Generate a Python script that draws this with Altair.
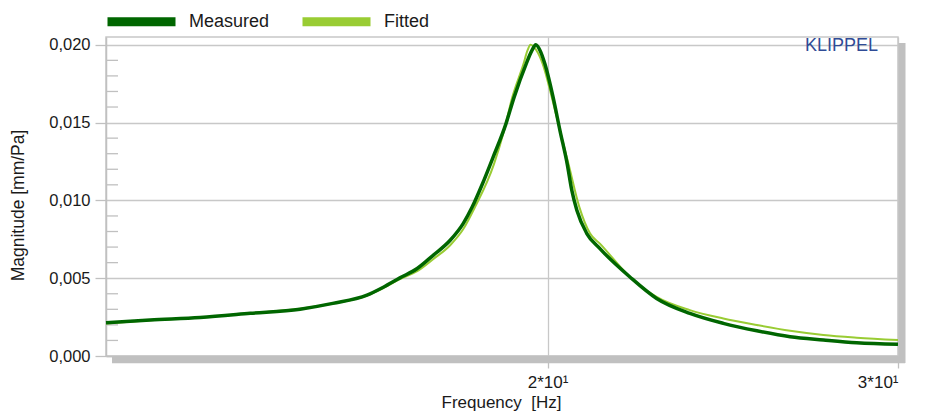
import altair as alt
import pandas as pd

# ---- data ----
freq_measured = [12.00, 12.63, 13.38, 14.18, 15.02, 15.60, 16.23, 16.53, 16.86, 17.20,
                 17.52, 17.87, 18.14, 18.33, 18.55, 18.78, 19.06, 19.24, 19.51, 19.64,
                 19.73, 19.83, 19.94, 20.13, 20.29, 20.46, 20.57, 20.69, 20.93, 21.25,
                 22.00, 22.69, 23.58, 24.51, 25.48, 26.48, 27.52, 28.60, 30.00]
mag_measured = [0.00213, 0.00231, 0.00248, 0.00274, 0.00301, 0.00338, 0.00391, 0.00440, 0.00502, 0.00562,
                0.00647, 0.00744, 0.00851, 0.00957, 0.01107, 0.01278, 0.01492, 0.01662, 0.01876, 0.01962,
                0.02000, 0.01962, 0.01876, 0.01662, 0.01449, 0.01235, 0.01064, 0.00936, 0.00787, 0.00690,
                0.00508, 0.00370, 0.00274, 0.00210, 0.00162, 0.00124, 0.00103, 0.00085, 0.00075]

freq_fitted = [12.00, 12.63, 13.38, 14.18, 15.02, 15.60, 16.23, 16.53, 16.86, 17.20,
               17.52, 17.87, 18.14, 18.39, 18.80, 19.02, 19.20, 19.45, 19.54, 19.61,
               19.75, 19.89, 20.10, 20.29, 20.49, 20.75, 21.01, 21.25, 22.00, 22.69,
               23.58, 24.51, 25.48, 26.48, 27.52, 28.60, 30.00]
mag_fitted = [0.00209, 0.00229, 0.00248, 0.00275, 0.00303, 0.00338, 0.00389, 0.00435, 0.00494, 0.00545,
              0.00622, 0.00712, 0.00814, 0.00957, 0.01235, 0.01449, 0.01662, 0.01876, 0.01962, 0.02000,
              0.01962, 0.01876, 0.01662, 0.01449, 0.01235, 0.00957, 0.00787, 0.00722, 0.00508, 0.00380,
              0.00295, 0.00241, 0.00199, 0.00162, 0.00135, 0.00118, 0.00103]

series_names = ["Measured", "Fitted"]
series_colors = ["#006600", "#99cc33"]
y_major = [0.0, 0.005, 0.010, 0.015, 0.020]
y_minor = [0.001, 0.002, 0.003, 0.004, 0.006, 0.007, 0.008, 0.009,
           0.011, 0.012, 0.013, 0.014, 0.016, 0.017, 0.018, 0.019]
x_ticks = [20, 30]
brand = ["KLIPPEL"]

df = pd.concat([
    pd.DataFrame({"f": freq_measured, "m": mag_measured, "series": "Measured"}),
    pd.DataFrame({"f": freq_fitted, "m": mag_fitted, "series": "Fitted"}),
])

FONT = "Liberation Sans"
GRID = "#c8c8c8"
SHADOW = "#c0c0c0"

xscale = alt.Scale(type="log", domain=[12, 30], nice=False, zero=False)
yscale = alt.Scale(domain=[0, 0.0205], nice=False, zero=False)

xaxis = alt.Axis(values=x_ticks, grid=True,
                 labelExpr="datum.value == 20 ? '2*10\u00b9' : '3*10\u00b9'",
                 tickSize=12, labelPadding=6, labelFontSize=17,
                 title="Frequency\u00a0 [Hz]", titleFontSize=17, titleFontWeight="normal",
                 titleX=395, titleY=51, titleBaseline="alphabetic", titleAlign="center")
yaxis = alt.Axis(values=y_major, grid=True,
                 labelExpr="replace(format(datum.value, '.3f'), '.', ',')",
                 tickSize=11, labelPadding=5, labelFontSize=16.5,
                 title="Magnitude [mm/Pa]", titleFontSize=17.5, titleFontWeight="normal",
                 titleX=-88, titleY=168, titleAngle=270, titleAlign="center",
                 titleBaseline="middle")

color = alt.Color("series:N",
                  scale=alt.Scale(domain=series_names, range=series_colors),
                  legend=alt.Legend(orient="none", legendX=-3, legendY=-54,
                                    direction="horizontal", title=None,
                                    symbolType="stroke", symbolSize=4624,
                                    symbolStrokeWidth=9, labelFontSize=18,
                                    labelOffset=9, columnPadding=14, padding=0,
                                    labelFont=FONT, labelColor="#1a1a1a"))

base = alt.Chart(df)

fitted = base.transform_filter(alt.datum.series == "Fitted").mark_line(
    interpolate="monotone", strokeWidth=2).encode(
    x=alt.X("f:Q", scale=xscale, axis=xaxis),
    y=alt.Y("m:Q", scale=yscale, axis=yaxis),
    color=color)

measured = base.transform_filter(alt.datum.series == "Measured").mark_line(
    interpolate="monotone", strokeWidth=3.5).encode(
    x=alt.X("f:Q", scale=xscale),
    y=alt.Y("m:Q", scale=yscale),
    color=color)

minor = alt.Chart(pd.DataFrame({"v": y_minor})).mark_rule(
    color=SHADOW, strokeWidth=1.3).encode(
    y=alt.Y("v:Q", scale=yscale), x=alt.value(0), x2=alt.value(12))

shadow_bottom = alt.Chart(pd.DataFrame({"v": [0]})).mark_rule(
    color=SHADOW, strokeWidth=6.5, yOffset=4).encode(
    y=alt.Y("v:Q", scale=yscale), x=alt.value(6), x2=alt.value(799))

shadow_right = alt.Chart(pd.DataFrame({"v": [30]})).mark_rule(
    color=SHADOW, strokeWidth=7, xOffset=4).encode(
    x=alt.X("v:Q", scale=xscale), y=alt.value(6), y2=alt.value(326))

label = alt.Chart(pd.DataFrame({"t": brand, "x": [30], "y": [0.0205]})).mark_text(
    align="right", baseline="alphabetic", dx=-20, dy=14, fontSize=18,
    font=FONT, color="#2f4b96").encode(
    x=alt.X("x:Q", scale=xscale), y=alt.Y("y:Q", scale=yscale), text="t:N")

chart = alt.layer(shadow_bottom, shadow_right, minor, fitted, measured, label).properties(
    width=792, height=319,
    autosize=alt.AutoSizeParams(type="none"),
    padding={"left": 98, "top": 29, "right": 29, "bottom": 55},
    background="white",
).configure_view(
    stroke=GRID, strokeWidth=1.5
).configure_axis(
    domainColor=SHADOW, domainWidth=1.5, tickColor=SHADOW, tickWidth=1.3,
    gridColor=GRID, gridWidth=1.3, labelFont=FONT, titleFont=FONT,
    labelColor="#1a1a1a", titleColor="#1a1a1a"
)

chart.save("out.html", embed_options={"renderer": "svg", "actions": False})
